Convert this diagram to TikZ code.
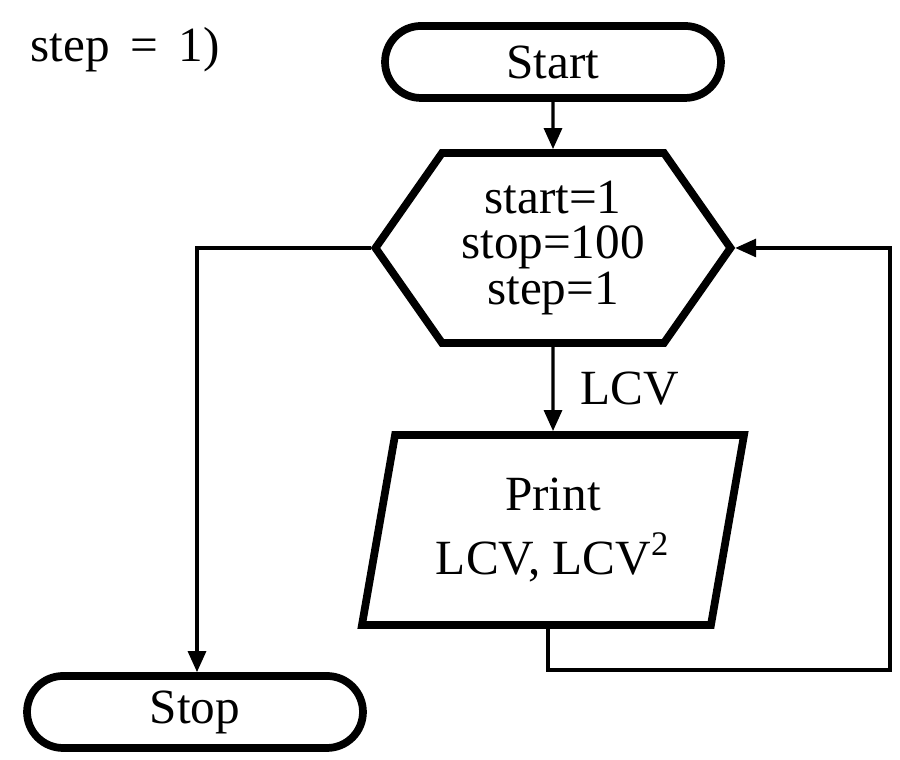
\documentclass[tikz,border=0pt]{standalone}
\usepackage{fontspec}
\setmainfont{Liberation Serif}
\usetikzlibrary{arrows.meta,shapes.misc,shapes.symbols,shapes.geometric}

\begin{document}
\begin{tikzpicture}[
  x=1cm,y=1cm,
  every node/.style={font=\fontsize{14pt}{13pt}\selectfont},
  terminal/.style={draw=black, line width=2.2pt, rounded rectangle, minimum width=3.5cm, minimum height=0.72cm, inner sep=2pt},
  loopbox/.style={draw=black, line width=2.2pt, signal, signal to=east and west, signal pointer angle=110, minimum width=3.55cm, minimum height=1.9cm, align=center, inner sep=1pt},
  iobox/.style={draw=black, line width=2.2pt, trapezium, trapezium left angle=78, trapezium right angle=102, trapezium stretches=true, minimum width=3.85cm, minimum height=1.9cm, align=center},
  arrow/.style={-{Triangle[length=2.1mm,width=1.8mm]}, line width=0.9pt, draw=black}
]
\useasboundingbox (0,0) rectangle (9,7.6);

\node[anchor=west] (head) at (0.18,7.1) {step \,=\, 1)};

\node[terminal] (start) at (5.53,6.98) {Start};
\node[loopbox] (init) at (5.53,5.12) {start=1\\stop=100\\step=1};
\node[iobox] (print) at (5.53,2.30) {Print\\[5pt]LCV, LCV\textsuperscript{2}};
\node[terminal] (stop) at (1.95,0.48) {Stop};

\coordinate (leftturn) at (1.97,5.12);
\coordinate (backdown) at (5.48,0.90);
\coordinate (backright) at (8.90,0.90);

\draw[arrow] (start) -- (init);
\draw[arrow] (init) -- node[right=4pt] {LCV} (print);
\draw[arrow] (init.west) -- (init.west -| leftturn) -- (stop.north -| leftturn);
\draw[arrow] (print.south -| backdown) -- (backdown) -- (backright) |- (init.east);
\end{tikzpicture}
\end{document}
